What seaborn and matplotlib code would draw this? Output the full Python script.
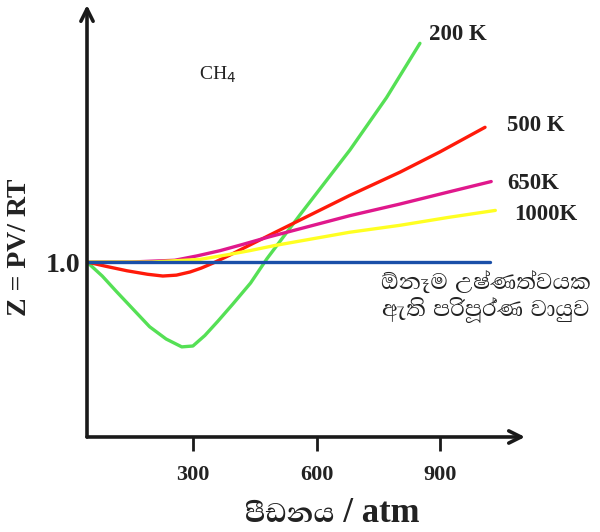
import matplotlib
matplotlib.use("Agg")
import matplotlib.pyplot as plt
import seaborn as sns
import pandas as pd

# Compressibility factor of CH4 vs pressure
p_200 = [43, 80, 115, 155, 195, 235, 273, 300, 329, 360, 397, 440, 480, 560, 681, 770, 851]
z_200 = [1.00, 0.92, 0.83, 0.73, 0.63, 0.56, 0.515, 0.52, 0.58, 0.66, 0.76, 0.88, 1.02, 1.27, 1.64, 1.94, 2.25]

p_500 = [43, 90, 140, 190, 227, 260, 293, 320, 349, 390, 438, 500, 560, 680, 803, 900, 1009]
z_500 = [1.00, 0.975, 0.95, 0.93, 0.92, 0.925, 0.943, 0.965, 0.994, 1.04, 1.097, 1.17, 1.24, 1.38, 1.514, 1.63, 1.77]

p_650 = [43, 150, 256, 310, 366, 420, 487, 560, 681, 800, 920, 1024]
z_650 = [1.00, 1.00, 1.01, 1.035, 1.065, 1.10, 1.145, 1.19, 1.265, 1.33, 1.40, 1.46]

p_1000 = [43, 200, 317, 380, 438, 500, 560, 680, 803, 920, 1034]
z_1000 = [1.00, 1.00, 1.015, 1.04, 1.065, 1.095, 1.12, 1.17, 1.21, 1.255, 1.295]

p_ideal = [43, 1020]
z_ideal = [1.0, 1.0]

series = [
    ("200 K", p_200, z_200, "#55e055"),
    ("500 K", p_500, z_500, "#ff1a0a"),
    ("650K", p_650, z_650, "#e0188c"),
    ("1000K", p_1000, z_1000, "#ffff22"),
    ("ideal", p_ideal, z_ideal, "#1a4fa8"),
]

sns.set_style("white")
fonts = ["Liberation Serif", "Abhaya Libre", "Noto Serif Sinhala", "DejaVu Sans"]
plt.rcParams["font.family"] = fonts

fig = plt.figure(figsize=(6.0, 5.32), dpi=100)
ax = fig.add_axes([0.145, 0.1786, 0.73, 0.812])

for name, p, z, col in series:
    df = pd.DataFrame({"p": p, "z": z})
    sns.lineplot(data=df, x="p", y="z", ax=ax, color=col, lw=2.4, sort=False)

ax.set_xlim(43, 1106)
ax.set_ylim(0, 2.469)
for s in ax.spines.values():
    s.set_visible(False)

# axes with arrow heads
arrow = dict(arrowstyle="->", lw=2.6, color="#1a1a1a", mutation_scale=22, shrinkA=0, shrinkB=0)
ax.annotate("", xy=(0, 1.0), xytext=(0, 0), xycoords="axes fraction", arrowprops=arrow)
ax.annotate("", xy=(1.0, 0), xytext=(0, 0), xycoords="axes fraction", arrowprops=arrow)

ax.set_xticks([300, 600, 900])
ax.set_xticklabels(["300", "600", "900"], fontsize=16, fontweight="bold", color="#222222")
ax.tick_params(axis="x", direction="out", length=10, width=2, color="#1a1a1a", pad=10, bottom=True)
ax.set_yticks([1.0])
ax.set_yticklabels(["1.0"], fontsize=20, fontweight="bold", color="#222222")
ax.tick_params(axis="y", length=0, pad=5)

ax.set_xlabel("පීඩනය / atm", fontsize=25, fontweight="bold", color="#222222")
ax.set_ylabel("Z = PV/ RT", fontsize=20, fontweight="bold", color="#222222")
ax.xaxis.set_label_coords(0.559, -0.138)
ax.yaxis.set_label_coords(-0.125, 0.44)

lab = dict(fontsize=16.5, fontweight="bold", color="#222222", va="center")
ax.text(872, 2.30, "200 K", **lab)
ax.text(1062, 1.78, "500 K", **lab)
ax.text(1062, 1.45, "650K", **lab)
ax.text(1079, 1.27, "1000K", **lab)
ax.text(315, 2.07, r"CH$_4$", fontsize=14, color="#222222", va="center")
ax.text(756, 0.88, "ඕනෑම උෂ්ණත්වයක", fontsize=21, color="#222222", va="center")
ax.text(760, 0.725, "ඇති පරිපූර්ණ වායුව", fontsize=21, color="#222222", va="center")

fig.savefig("out.png", dpi=100)
